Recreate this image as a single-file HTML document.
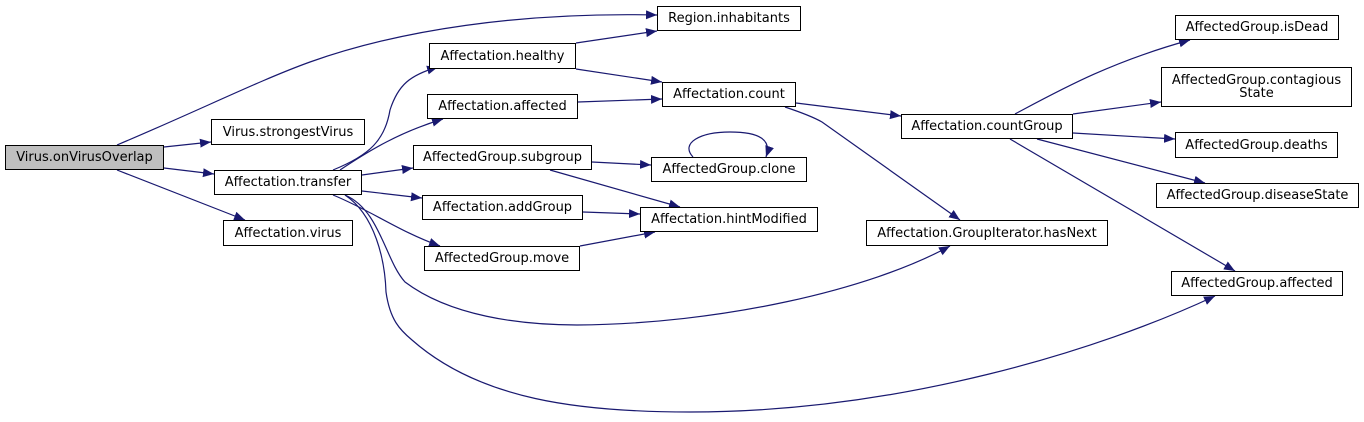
<!DOCTYPE html>
<html><head><meta charset="utf-8"><style>
html,body{margin:0;padding:0;background:#fff;}
body{width:1364px;height:422px;position:relative;overflow:hidden;font-family:"DejaVu Sans","Liberation Sans",sans-serif;}
.n{position:absolute;box-sizing:border-box;border:1px solid #000;background:#fff;font-size:13px;line-height:13px;color:#000;display:flex;align-items:center;justify-content:center;text-align:center;white-space:nowrap;}
svg{position:absolute;left:0;top:0;}
</style></head><body>
<svg width="1364" height="422" viewBox="0 0 1364 422">
<defs><marker id="a" markerUnits="userSpaceOnUse" markerWidth="12" markerHeight="10" refX="11" refY="4.5" orient="auto"><path d="M0,0 L11,4.5 L0,9 z" fill="#191970"/></marker></defs>
<g fill="none" stroke="#191970" stroke-width="1.2" marker-end="url(#a)">
<path d="M117,145 C200,110 260,80 310,62 C400,30 520,12 657,15"/>
<path d="M164,147 L211,142"/>
<path d="M164,168 L214,174"/>
<path d="M117,170 L245,220"/>
<path d="M333,170 C370,155 385,140 390,110 C398,85 410,75 438,67"/>
<path d="M340,170 C370,150 400,132 443,119"/>
<path d="M362,175 L413,168"/>
<path d="M362,191 L422,198"/>
<path d="M333,195 C370,210 400,232 440,246"/>
<path d="M345,195 C380,210 385,260 405,282 C450,316 520,325 577,325 C720,324 870,290 950,246"/>
<path d="M345,195 C375,215 385,260 386,292 C390,320 400,330 412,340 C480,400 580,412 690,412 C900,412 1100,350 1215,296"/>
<path d="M576,43 L657,31"/>
<path d="M576,69 L662,82"/>
<path d="M578,102 L662,99"/>
<path d="M592,162 L651,165"/>
<path d="M550,170 L680,207"/>
<path d="M583,212 L640,214"/>
<path d="M580,246 L655,232"/>
<path d="M693,157 C680,143 700,132 730,132 C760,132 772,140 766,157"/>
<path d="M796,103 L901,116"/>
<path d="M785,107 C800,112 815,118 822,122 L960,220"/>
<path d="M1015,114 C1060,90 1110,62 1190,40"/>
<path d="M1073,114 L1161,102"/>
<path d="M1073,133 L1175,139"/>
<path d="M1037,139 L1205,183"/>
<path d="M1010,139 L1235,271"/>
</g>
</svg>
<div class="n" style="left:5px;top:145px;width:159px;height:25px;background:#bfbfbf">Virus.onVirusOverlap</div>
<div class="n" style="left:211px;top:119px;width:154px;height:26px">Virus.strongestVirus</div>
<div class="n" style="left:214px;top:170px;width:148px;height:25px">Affectation.transfer</div>
<div class="n" style="left:223px;top:220px;width:130px;height:26px">Affectation.virus</div>
<div class="n" style="left:657px;top:6px;width:144px;height:25px">Region.inhabitants</div>
<div class="n" style="left:429px;top:43px;width:147px;height:26px">Affectation.healthy</div>
<div class="n" style="left:427px;top:94px;width:151px;height:25px">Affectation.affected</div>
<div class="n" style="left:413px;top:145px;width:179px;height:25px">AffectedGroup.subgroup</div>
<div class="n" style="left:651px;top:157px;width:156px;height:25px">AffectedGroup.clone</div>
<div class="n" style="left:422px;top:195px;width:161px;height:25px">Affectation.addGroup</div>
<div class="n" style="left:640px;top:207px;width:178px;height:25px">Affectation.hintModified</div>
<div class="n" style="left:424px;top:246px;width:156px;height:25px">AffectedGroup.move</div>
<div class="n" style="left:662px;top:82px;width:134px;height:25px">Affectation.count</div>
<div class="n" style="left:901px;top:114px;width:172px;height:25px">Affectation.countGroup</div>
<div class="n" style="left:866px;top:220px;width:242px;height:26px">Affectation.GroupIterator.hasNext</div>
<div class="n" style="left:1175px;top:15px;width:164px;height:25px">AffectedGroup.isDead</div>
<div class="n" style="left:1161px;top:67px;width:191px;height:40px">AffectedGroup.contagious<br>State</div>
<div class="n" style="left:1175px;top:132px;width:163px;height:26px">AffectedGroup.deaths</div>
<div class="n" style="left:1156px;top:183px;width:203px;height:25px">AffectedGroup.diseaseState</div>
<div class="n" style="left:1171px;top:271px;width:172px;height:25px">AffectedGroup.affected</div>
</body></html>
